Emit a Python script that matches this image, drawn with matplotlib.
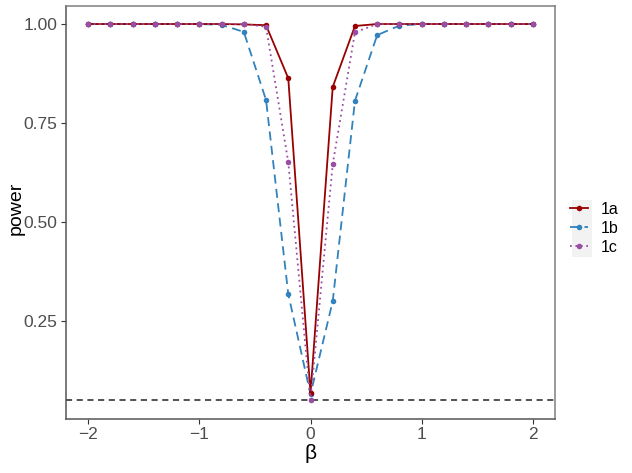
import numpy as np
import matplotlib
matplotlib.use("Agg")
import matplotlib.pyplot as plt
from matplotlib.patches import Rectangle

plt.rcParams['font.family'] = ['Liberation Sans', 'DejaVu Sans']

beta = [-2.0, -1.8, -1.6, -1.4, -1.2, -1.0, -0.8, -0.6, -0.4, -0.2, 0.0,
        0.2, 0.4, 0.6, 0.8, 1.0, 1.2, 1.4, 1.6, 1.8, 2.0]
power_1a = [1.0, 1.0, 1.0, 1.0, 1.0, 1.0, 1.0, 0.999, 0.997, 0.863, 0.067,
            0.841, 0.995, 1.0, 1.0, 1.0, 1.0, 1.0, 1.0, 1.0, 1.0]
power_1b = [1.0, 1.0, 1.0, 1.0, 1.0, 1.0, 0.998, 0.980, 0.808, 0.318, 0.065,
            0.300, 0.806, 0.972, 0.996, 1.0, 1.0, 1.0, 1.0, 1.0, 1.0]
power_1c = [1.0, 1.0, 1.0, 1.0, 1.0, 1.0, 1.0, 1.0, 0.993, 0.651, 0.050,
            0.646, 0.979, 1.0, 1.0, 1.0, 1.0, 1.0, 1.0, 1.0, 1.0]
labels = ['1a', '1b', '1c']
alpha_level = 0.05

W, H = 632, 473
fig = plt.figure(figsize=(W/100, H/100), dpi=100)
ax = fig.add_axes([66/W, 1 - 419/H, (555 - 66)/W, (419 - 6)/H])

ax.axhline(alpha_level, color='#222222', linestyle=(0, (4, 3)), linewidth=1.1, zorder=1)
mk = dict(marker='o', markersize=4.0, markeredgewidth=0)
ax.plot(beta, power_1a, color='#990000', linestyle='-', linewidth=1.3,
        label=labels[0], zorder=3, **mk)
ax.plot(beta, power_1b, color='#3182BD', linestyle=(0, (5, 3)), linewidth=1.3,
        label=labels[1], zorder=2, **mk)
ax.plot(beta, power_1c, color='#984EA3', linestyle=(0, (1, 2)), linewidth=1.3,
        label=labels[2], zorder=4, **mk)

ax.set_xlim(-2.2, 2.2)
ax.set_ylim(0.0025, 1.0455)
ax.set_xticks([-2, -1, 0, 1, 2])
ax.set_xticklabels(['\u22122', '\u22121', '0', '1', '2'])
ax.set_yticks([0.25, 0.5, 0.75, 1.0])
ax.set_yticklabels(['0.25', '0.50', '0.75', '1.00'])
ax.tick_params(colors='#333333', labelcolor='#4D4D4D', labelsize=12.5,
               length=3.5, width=0.8, pad=2.5)
for side in ['top', 'right']:
    ax.spines[side].set_color('#7F7F7F')
    ax.spines[side].set_linewidth(1.1)
for side in ['left', 'bottom']:
    ax.spines[side].set_color('#555555')
    ax.spines[side].set_linewidth(1.1)

ax.set_xlabel('\u03b2', fontsize=15, labelpad=1)
ax.set_ylabel('power', fontsize=14)
ax.yaxis.set_label_coords(-0.085, 0.51)

# legend with grey key background
fig.patches.append(Rectangle((572/W, 1 - 257/H), 20/W, 57/H, transform=fig.transFigure,
                             facecolor='#F2F2F2', edgecolor='none', zorder=0))
leg = fig.legend(loc='center left', bbox_to_anchor=(570/W, 1 - 228.5/H), frameon=False,
                 fontsize=11.5, handlelength=1.1, handletextpad=0.8, labelspacing=0.25,
                 borderaxespad=0, borderpad=0)

fig.savefig('out.png', dpi=100)
